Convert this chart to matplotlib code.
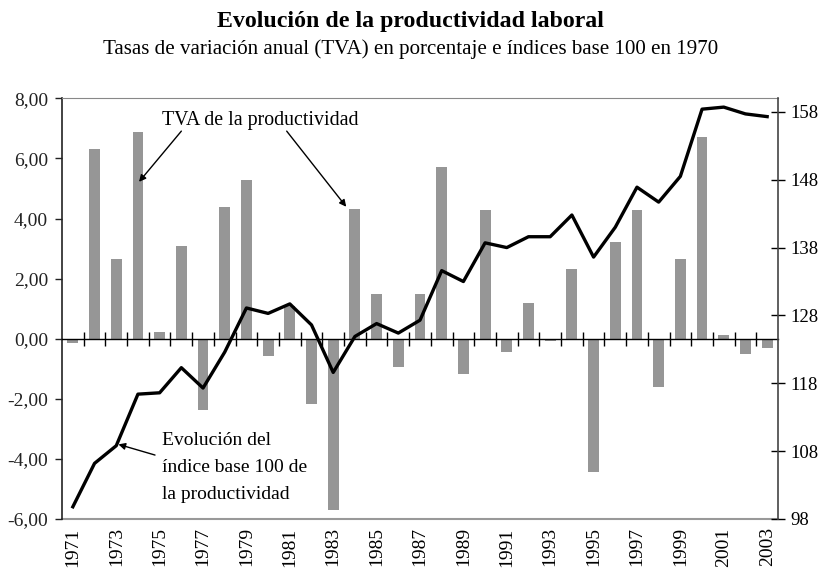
import matplotlib
matplotlib.use("Agg")
import matplotlib.pyplot as plt
import numpy as np

years = list(range(1971, 2004))
tva = [-0.15, 6.30, 2.64, 6.88, 0.21, 3.08, -2.37, 4.39, 5.28, -0.58,
       1.10, -2.17, -5.70, 4.33, 1.48, -0.93, 1.48, 5.70, -1.19, 4.28,
       -0.45, 1.18, -0.07, 2.32, -4.43, 3.21, 4.28, -1.60, 2.66, 6.70,
       0.12, -0.52, -0.32]
indice = [99.8, 106.2, 108.8, 116.4, 116.6, 120.3, 117.3, 122.6, 129.1, 128.3,
          129.7, 126.6, 119.6, 124.9, 126.8, 125.4, 127.3, 134.6, 133.0, 138.7,
          138.0, 139.6, 139.6, 142.8, 136.6, 141.0, 146.9, 144.7, 148.5, 158.4,
          158.7, 157.7, 157.3]
left_ticks = [-6, -4, -2, 0, 2, 4, 6, 8]
right_ticks = [98, 108, 118, 128, 138, 148, 158]

plt.rcParams['font.family'] = ['Liberation Serif', 'DejaVu Serif']

W, H = 821, 571
fig = plt.figure(figsize=(W / 100, H / 100), dpi=100)
L, R, T, B = 62, 778, 98.3, 519
ax = fig.add_axes([L / W, 1 - B / H, (R - L) / W, (B - T) / H])
x = np.arange(len(years))

ax.bar(x, tva, width=0.5, color='#969696', zorder=2)
ax.set_xlim(-0.5, len(years) - 0.5)
ax.set_ylim(-6, 8)
ax.set_yticks(left_ticks)
ax.set_yticklabels([f"{v:.2f}".replace('.', ',') for v in left_ticks])
ax.tick_params(axis='y', direction='out', length=5, width=1, labelsize=14, colors='#222222', pad=5)

# zero line with category-boundary ticks
ax.spines['bottom'].set_position(('data', 0))
ax.spines['bottom'].set_color('black')
ax.spines['bottom'].set_linewidth(1)
ax.set_xticks(x[:-1] + 0.5)
ax.set_xticklabels([])
ax.tick_params(axis='x', direction='inout', length=10, width=1, colors='black')
ax.spines['top'].set_color('#888888')
ax.spines['left'].set_color('#222222')
ax.spines['left'].set_linewidth(1.2)
ax.spines['right'].set_visible(False)
ax.axhline(-6, color='#999999', lw=1.5, zorder=1, clip_on=False)

# year labels at the bottom
sec = ax.secondary_xaxis(0.0)
sec.set_xticks(x[::2])
sec.set_xticklabels([str(y) for y in years[::2]], rotation=90)
sec.tick_params(length=0, labelsize=14, pad=6)
sec.spines['bottom'].set_visible(False)

ax2 = ax.twinx()
ax2.plot(x, indice, color='black', lw=2.4, zorder=3)
ax2.set_ylim(98, 160)
ax2.set_yticks(right_ticks)
ax2.tick_params(axis='y', direction='inout', length=10, width=1, labelsize=13.5, pad=4)
for s in ['top', 'bottom', 'left']:
    ax2.spines[s].set_visible(False)
ax2.spines['right'].set_color('#444444')
ax2.spines['right'].set_linewidth(1.2)

fig.text(0.5, 1 - 21 / H, "Evolución de la productividad laboral", ha='center', va='center',
         fontsize=17.2, fontweight='bold')
fig.text(0.5, 1 - 49 / H, "Tasas de variación anual (TVA) en porcentaje e índices base 100 en 1970",
         ha='center', va='center', fontsize=15.1)

ax.text(0.2765, 0.948, "TVA de la productividad", transform=ax.transAxes, ha='center',
        va='center', fontsize=14.3)
arrow = dict(arrowstyle='-|>', color='black', lw=1, mutation_scale=10, shrinkA=0, shrinkB=0)
ax.annotate("", xy=(3.05, 5.22), xycoords='data', xytext=(0.1667, 0.922), textcoords='axes fraction',
            arrowprops=arrow)
ax.annotate("", xy=(12.6, 4.39), xycoords='data', xytext=(0.3138, 0.922), textcoords='axes fraction',
            arrowprops=arrow)
ax.text(0.1393, 0.206, "Evolución del\níndice base 100 de\nla productividad", transform=ax.transAxes,
        ha='left', va='top', fontsize=14, linespacing=1.75)
ax2.annotate("", xy=(2.1, 109.0), xycoords='data', xytext=(0.1299, 0.152), textcoords='axes fraction',
             arrowprops=arrow)

fig.savefig("out.png", dpi=100)
